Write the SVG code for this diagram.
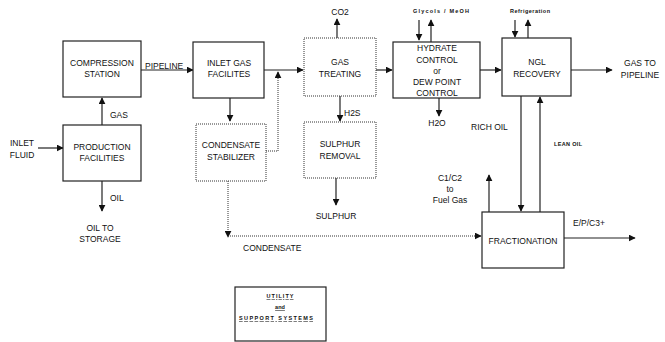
<svg xmlns="http://www.w3.org/2000/svg" width="665" height="342" viewBox="0 0 665 342">
<style>
text{font-family:"Liberation Sans",Arial,sans-serif;font-size:8.5px;fill:#111;text-anchor:middle}
.s{font-size:5.5px;font-weight:bold}
.l{text-anchor:start}
.box{fill:#fff;stroke:#222;stroke-width:1.2}
.dot{fill:#fff;stroke:#333;stroke-width:1;stroke-dasharray:1,1}
.c{fill:none;stroke:#222;stroke-width:1.2}
.cd{fill:none;stroke:#333;stroke-width:1;stroke-dasharray:1,1}
</style>
<defs>
<marker id="a" viewBox="0 0 10 10" refX="9" refY="5" markerWidth="7" markerHeight="7" markerUnits="userSpaceOnUse" orient="auto">
<path d="M0,0L10,5L0,10z" fill="#111"/>
</marker>
</defs>
<g id="connectors">
<path class="c" d="M38,148H63" marker-end="url(#a)"/>
<path class="c" d="M102,125V98" marker-end="url(#a)"/>
<path class="c" d="M102,181V211" marker-end="url(#a)"/>
<path class="c" d="M141,70H193" marker-end="url(#a)"/>
<path class="c" d="M264,70H303" marker-end="url(#a)"/>
<path class="c" d="M230,98V121" marker-end="url(#a)"/>
<path class="cd" d="M266,151H278V72" marker-end="url(#a)"/>
<path class="c" d="M337,38V19" marker-end="url(#a)"/>
<path class="c" d="M340,96V121" marker-end="url(#a)"/>
<path class="c" d="M336,178V205" marker-end="url(#a)"/>
<path class="cd" d="M228,181V237" marker-end="url(#a)"/>
<path class="cd" d="M228,236H481" marker-end="url(#a)"/>
<path class="c" d="M376,70H392" marker-end="url(#a)"/>
<path class="c" d="M419,20V40" marker-end="url(#a)"/>
<path class="c" d="M431,42V20" marker-end="url(#a)"/>
<path class="c" d="M439,98V116" marker-end="url(#a)"/>
<path class="c" d="M480,70H501" marker-end="url(#a)"/>
<path class="c" d="M515,20V37" marker-end="url(#a)"/>
<path class="c" d="M528,38V20" marker-end="url(#a)"/>
<path class="c" d="M571,70H612" marker-end="url(#a)"/>
<path class="c" d="M521,96V211" marker-end="url(#a)"/>
<path class="c" d="M540,212V97" marker-end="url(#a)"/>
<path class="c" d="M489,212V175" marker-end="url(#a)"/>
<path class="c" d="M564,238H635" marker-end="url(#a)"/>
</g>
<g id="compression"><rect class="box" x="63" y="41" width="78" height="56"/><text x="102" y="66">COMPRESSION</text><text x="102" y="77">STATION</text></g>
<g id="production"><rect class="box" x="63" y="125" width="78" height="56"/><text x="102" y="150">PRODUCTION</text><text x="102" y="161">FACILITIES</text></g>
<g id="inletgas"><rect class="box" x="193" y="42" width="71" height="56"/><text x="229" y="66">INLET GAS</text><text x="229" y="77">FACILITES</text></g>
<g id="gastreating"><rect class="dot" x="304" y="38" width="72" height="58"/><text x="340" y="65">GAS</text><text x="340" y="77">TREATING</text></g>
<g id="stabilizer"><rect class="dot" x="196" y="124" width="70" height="57"/><text x="231" y="148">CONDENSATE</text><text x="231" y="160">STABILIZER</text></g>
<g id="sulphur"><rect class="dot" x="304" y="122" width="72" height="56"/><text x="340" y="147">SULPHUR</text><text x="340" y="159">REMOVAL</text></g>
<g id="hydrate"><rect class="box" x="393" y="42" width="87" height="56"/><text x="437" y="51">HYDRATE</text><text x="437" y="63">CONTROL</text><text x="437" y="74" font-size="7">or</text><text x="437" y="85">DEW POINT</text><text x="437" y="96">CONTROL</text></g>
<g id="ngl"><rect class="box" x="502" y="38" width="69" height="58"/><text x="537" y="65">NGL</text><text x="537" y="77">RECOVERY</text></g>
<g id="fractionation"><rect class="box" x="482" y="212" width="82" height="56"/><text x="523" y="244">FRACTIONATION</text></g>
<g id="utility"><rect class="box" x="235" y="287" width="91" height="54"/><text class="s" x="280" y="298" text-decoration="underline" textLength="27" lengthAdjust="spacing">UTILITY</text><text class="s" x="280" y="309" text-decoration="underline">and</text><text class="s" x="276" y="320" text-decoration="underline" textLength="74" lengthAdjust="spacing">SUPPORT SYSTEMS</text></g>
<g id="labels">
<text x="22" y="146">INLET</text><text x="22" y="158">FLUID</text>
<text class="l" x="110" y="118">GAS</text>
<text class="l" x="110" y="201">OIL</text>
<text x="100" y="231">OIL TO</text><text x="100" y="242">STORAGE</text>
<text class="l" x="145" y="69">PIPELINE</text>
<text x="340" y="15">CO2</text>
<text class="l" x="344" y="116">H2S</text>
<text x="336" y="219">SULPHUR</text>
<text class="l" x="243" y="251">CONDENSATE</text>
<text class="s" x="441" y="13" textLength="56" lengthAdjust="spacing">Glycols  / MeOH</text>
<text x="437" y="126">H2O</text>
<text class="s" x="530" y="13" textLength="40" lengthAdjust="spacing">Refrigeration</text>
<text x="640" y="66">GAS TO</text><text x="640" y="78">PIPELINE</text>
<text class="l" x="471" y="130">RICH OIL</text>
<text class="s l" x="554" y="146" textLength="28" lengthAdjust="spacing">LEAN OIL</text>
<text x="450" y="181">C1/C2</text><text x="450" y="192">to</text><text x="450" y="203">Fuel Gas</text>
<text class="l" x="573" y="226">E/P/C3+</text>
</g>
</svg>
